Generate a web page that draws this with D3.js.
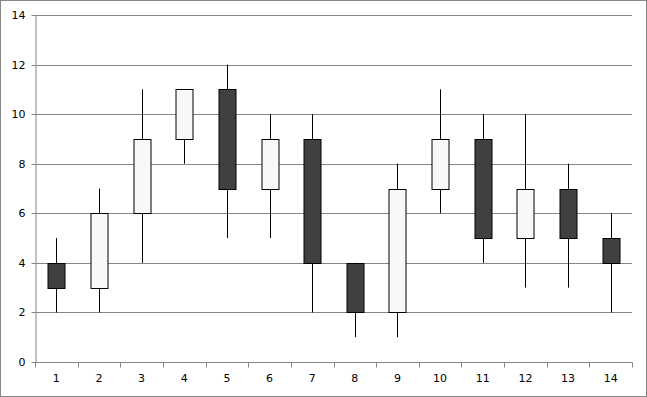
<!DOCTYPE html>
<html><head><meta charset="utf-8">
<script src="https://cdn.jsdelivr.net/npm/d3@7"></script>
<style>body{margin:0;background:#fff}svg{display:block}</style>
</head><body>
<script>
const categories = ["1","2","3","4","5","6","7","8","9","10","11","12","13","14"];
const openVals  = [4, 3, 6, 9, 11, 7, 9, 4, 2, 7, 9, 5, 7, 5];
const highVals  = [5, 7, 11, 11, 12, 10, 10, 4, 8, 11, 10, 10, 8, 6];
const lowVals   = [2, 2, 4, 8, 5, 5, 2, 1, 1, 6, 4, 3, 3, 2];
const closeVals = [3, 6, 9, 11, 7, 9, 4, 2, 7, 9, 5, 7, 5, 4];
const yTicks = [0, 2, 4, 6, 8, 10, 12, 14];

const W = 647, H = 397;
const m = {left: 35, right: 15, top: 15, bottom: 35};
const svg = d3.select("body").append("svg").attr("width", W).attr("height", H);
svg.append("rect").attr("x", 0.5).attr("y", 0.5).attr("width", W - 1).attr("height", H - 1)
  .attr("fill", "#fff").attr("stroke", "#868686");

const x = d3.scaleBand().domain(categories).range([m.left, W - m.right]);
const y = d3.scaleLinear().domain([0, 14]).range([H - m.bottom, m.top]);

const data = categories.map((c, i) => ({c, o: openVals[i], h: highVals[i], l: lowVals[i], cl: closeVals[i]}));

// gridlines
svg.append("g").selectAll("line").data(yTicks.filter(t => t > 0)).join("line")
  .attr("x1", m.left).attr("x2", W - m.right)
  .attr("y1", d => Math.round(y(d)) + 0.5).attr("y2", d => Math.round(y(d)) + 0.5)
  .attr("stroke", "#868686");

// y axis
const yAxis = svg.append("g").attr("transform", `translate(${m.left + 0.5},0)`)
  .call(d3.axisLeft(y).tickValues(yTicks).tickSize(4).tickSizeOuter(0).tickPadding(6));
yAxis.select(".domain").attr("stroke", "#868686");
yAxis.selectAll(".tick line").attr("stroke", "#868686");
yAxis.selectAll(".tick").attr("transform", d => `translate(0,${Math.round(y(d)) + 0.5})`);
yAxis.selectAll("text").attr("font-family", "DejaVu Sans, sans-serif").attr("font-size", 11).attr("fill", "#000");

// x axis
const xAxisG = svg.append("g").attr("transform", `translate(0,${Math.round(y(0)) + 0.5})`);
xAxisG.append("line").attr("x1", m.left).attr("x2", W - m.right).attr("stroke", "#868686");
const bounds = d3.range(categories.length + 1).map(i => m.left + i * x.step());
xAxisG.selectAll("line.tk").data(bounds).join("line").attr("class", "tk")
  .attr("x1", d => Math.round(d) + 0.5).attr("x2", d => Math.round(d) + 0.5)
  .attr("y1", 0).attr("y2", 5).attr("stroke", "#868686");
xAxisG.selectAll("text").data(categories).join("text")
  .attr("x", d => x(d) + x.bandwidth() / 2).attr("y", 19)
  .attr("text-anchor", "middle").attr("font-family", "DejaVu Sans, sans-serif")
  .attr("font-size", 11).attr("fill", "#000").text(d => d);

// candles
const bw = 17;
const g = svg.append("g");
data.forEach(d => {
  const cx = Math.round(x(d.c) + x.bandwidth() / 2) + 0.5;
  g.append("line").attr("x1", cx).attr("x2", cx)
    .attr("y1", y(d.h)).attr("y2", y(d.l)).attr("stroke", "#000");
  const top = Math.round(y(Math.max(d.o, d.cl))) + 0.5;
  const bot = Math.round(y(Math.min(d.o, d.cl))) + 0.5;
  g.append("rect").attr("x", cx - bw / 2).attr("y", top)
    .attr("width", bw).attr("height", bot - top)
    .attr("fill", d.cl < d.o ? "#404040" : "#f8f8f8").attr("stroke", "#000");
});
</script>
</body></html>
